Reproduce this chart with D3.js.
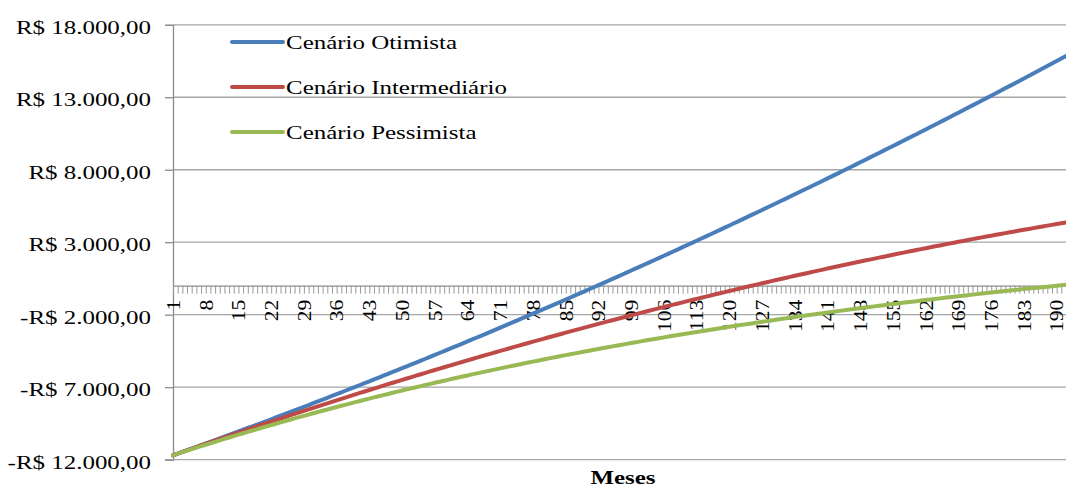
<!DOCTYPE html>
<html>
<head>
<meta charset="utf-8">
<script src="https://cdn.jsdelivr.net/npm/d3@7"></script>
<style>
  html, body { margin: 0; padding: 0; background: #ffffff; }
  svg { display: block; }
  text { font-family: "Liberation Serif", "Times New Roman", serif; fill: #000; }
</style>
</head>
<body>
<svg id="chart" width="1066" height="488"></svg>
<script>
// Cumulative balance (R$) per month for three scenarios
const months = d3.range(1, 193);

const otimista = [
  -11700,-11585,-11469,-11353,-11237,-11121,-11004,-10887,-10769,-10652,
  -10534,-10415,-10297,-10178,-10059,-9939,-9819,-9699,-9579,-9458,
  -9337,-9216,-9094,-8972,-8850,-8727,-8604,-8481,-8358,-8234,
  -8110,-7985,-7861,-7736,-7610,-7485,-7359,-7233,-7106,-6979,
  -6852,-6725,-6597,-6469,-6341,-6212,-6083,-5954,-5824,-5694,
  -5564,-5434,-5303,-5172,-5040,-4909,-4777,-4644,-4512,-4379,
  -4245,-4112,-3978,-3844,-3709,-3575,-3440,-3304,-3169,-3033,
  -2896,-2760,-2623,-2486,-2348,-2210,-2072,-1934,-1795,-1656,
  -1517,-1377,-1237,-1097,-956,-815,-674,-533,-391,-249,
  -107,36,179,322,466,610,754,899,1044,1189,
  1334,1480,1626,1772,1919,2066,2213,2361,2508,2657,
  2805,2954,3103,3252,3402,3552,3702,3853,4004,4155,
  4307,4458,4611,4763,4916,5069,5222,5376,5530,5684,
  5839,5993,6149,6304,6460,6616,6772,6929,7086,7243,
  7401,7559,7717,7876,8035,8194,8353,8513,8673,8833,
  8994,9155,9316,9478,9640,9802,9964,10127,10290,10454,
  10617,10782,10946,11110,11275,11441,11606,11772,11938,12105,
  12271,12439,12606,12774,12942,13110,13278,13447,13617,13786,
  13956,14126,14296,14467,14638,14809,14981,15153,15325,15498,
  15671,15844
];

const intermediario = [
  -11700,-11586,-11473,-11360,-11248,-11135,-11023,-10912,-10800,-10689,
  -10579,-10468,-10358,-10248,-10139,-10029,-9920,-9812,-9704,-9596,
  -9488,-9381,-9274,-9167,-9060,-8954,-8849,-8743,-8638,-8533,
  -8428,-8324,-8220,-8117,-8013,-7910,-7808,-7705,-7603,-7501,
  -7400,-7299,-7198,-7097,-6997,-6897,-6798,-6699,-6600,-6501,
  -6402,-6304,-6207,-6109,-6012,-5915,-5819,-5723,-5627,-5531,
  -5436,-5341,-5246,-5152,-5058,-4964,-4871,-4778,-4685,-4593,
  -4500,-4409,-4317,-4226,-4135,-4044,-3954,-3864,-3774,-3685,
  -3596,-3507,-3419,-3331,-3243,-3155,-3068,-2981,-2895,-2808,
  -2722,-2637,-2552,-2467,-2382,-2297,-2213,-2130,-2046,-1963,
  -1880,-1797,-1715,-1633,-1552,-1470,-1389,-1309,-1228,-1148,
  -1068,-989,-910,-831,-753,-674,-596,-519,-442,-365,
  -288,-212,-136,-60,16,91,165,240,314,388,
  462,535,608,680,753,825,896,968,1039,1110,
  1180,1250,1320,1390,1459,1528,1596,1665,1732,1800,
  1868,1935,2001,2068,2134,2200,2265,2330,2395,2460,
  2524,2588,2652,2715,2778,2841,2903,2965,3027,3088,
  3150,3210,3271,3331,3391,3451,3510,3569,3628,3686,
  3744,3802,3859,3916,3973,4030,4086,4142,4197,4253,
  4308,4362
];

const pessimista = [
  -11700,-11594,-11490,-11385,-11282,-11179,-11076,-10975,-10874,-10773,
  -10673,-10574,-10476,-10378,-10281,-10184,-10088,-9992,-9898,-9803,
  -9710,-9616,-9524,-9432,-9341,-9250,-9160,-9070,-8981,-8893,
  -8805,-8717,-8630,-8544,-8458,-8373,-8288,-8204,-8121,-8038,
  -7955,-7873,-7791,-7710,-7630,-7550,-7470,-7391,-7313,-7235,
  -7157,-7080,-7004,-6928,-6852,-6777,-6702,-6628,-6555,-6481,
  -6409,-6336,-6264,-6193,-6122,-6051,-5981,-5912,-5843,-5774,
  -5705,-5638,-5570,-5503,-5436,-5370,-5304,-5239,-5174,-5110,
  -5045,-4982,-4918,-4855,-4793,-4731,-4669,-4607,-4546,-4486,
  -4426,-4366,-4306,-4247,-4189,-4130,-4072,-4015,-3957,-3900,
  -3844,-3788,-3732,-3676,-3621,-3566,-3512,-3458,-3404,-3351,
  -3298,-3245,-3192,-3140,-3089,-3037,-2986,-2935,-2885,-2835,
  -2785,-2735,-2686,-2637,-2589,-2540,-2492,-2445,-2397,-2350,
  -2303,-2257,-2211,-2165,-2119,-2074,-2029,-1984,-1939,-1895,
  -1851,-1808,-1764,-1721,-1678,-1636,-1593,-1551,-1510,-1468,
  -1427,-1386,-1345,-1305,-1264,-1224,-1185,-1145,-1106,-1067,
  -1028,-990,-952,-914,-876,-838,-801,-764,-727,-691,
  -654,-618,-582,-547,-511,-476,-441,-406,-372,-337,
  -303,-269,-236,-202,-169,-136,-103,-70,-38,-5,
  27,58
];

const seriesNames = ["Cenário Otimista", "Cenário Intermediário", "Cenário Pessimista"];
const seriesColors = ["#4A7EBB", "#BE4B48", "#98B954"];

const yTicks = [-12000, -7000, -2000, 3000, 8000, 13000, 18000];
const yTickLabels = ["-R$ 12.000,00", "-R$ 7.000,00", "-R$ 2.000,00", "R$ 3.000,00",
                     "R$ 8.000,00", "R$ 13.000,00", "R$ 18.000,00"];
const xTickLabels = [1, 8, 15, 22, 29, 36, 43, 50, 57, 64, 71, 78, 85, 92, 99, 106,
                     113, 120, 127, 134, 141, 148, 155, 162, 169, 176, 183, 190];
const xTitle = "Meses";

// ---- layout ----
const plot = { left: 173, right: 1066, top: 24.8, bottom: 459.6 };
const stretch = 1.28;   // wide glyph rendering used throughout the chart

const svg = d3.select("#chart");

const x = d3.scalePoint().domain(months).range([plot.left, plot.right]);
const y = d3.scaleLinear().domain([-12000, 18000]).range([plot.bottom, plot.top]);

// horizontal gridlines
svg.append("g")
  .selectAll("line")
  .data(yTicks)
  .join("line")
  .attr("x1", plot.left).attr("x2", plot.right)
  .attr("y1", d => y(d)).attr("y2", d => y(d))
  .attr("stroke", "#a6a6a6").attr("stroke-width", 1.3);

// y axis
const yAxis = svg.append("g")
  .attr("transform", `translate(${plot.left},0)`)
  .call(d3.axisLeft(y).tickValues(yTicks).tickSize(8).tickPadding(0)
    .tickFormat((d, i) => yTickLabels[i]));
yAxis.select(".domain").attr("stroke", "#8c8c8c").attr("stroke-width", 1.3);
yAxis.selectAll(".tick line").attr("stroke", "#8c8c8c").attr("stroke-width", 1.3);
yAxis.selectAll(".tick text")
  .attr("x", null).attr("dy", null)
  .attr("font-size", 19.5)
  .attr("text-anchor", "end")
  .attr("transform", `translate(-22,8.5) scale(${stretch},1)`);

// x axis drawn through zero, with a tick at each month
const xAxis = svg.append("g")
  .attr("transform", `translate(0,${y(0)})`)
  .call(d3.axisBottom(x).tickValues(months).tickSize(8).tickSizeOuter(0)
    .tickFormat(d => xTickLabels.includes(d) ? String(d) : ""));
xAxis.select(".domain").attr("stroke", "#8c8c8c").attr("stroke-width", 1.3)
  .attr("d", `M${plot.left},0.5H${plot.right}`);
xAxis.selectAll(".tick line").attr("stroke", "#9a9a9a").attr("stroke-width", 1);
xAxis.selectAll(".tick text")
  .attr("y", null).attr("dy", null)
  .attr("font-size", 18)
  .attr("text-anchor", "end")
  .attr("dominant-baseline", "central")
  .attr("transform", `translate(0,14) rotate(-90) scale(1.2,1)`);

// series lines
const line = d3.line().x((d, i) => x(months[i])).y(d => y(d));
[otimista, intermediario, pessimista].forEach((vals, k) => {
  svg.append("path")
    .datum(vals)
    .attr("d", line)
    .attr("fill", "none")
    .attr("stroke", seriesColors[k])
    .attr("stroke-width", 4)
    .attr("stroke-linejoin", "round")
    .attr("stroke-linecap", "round");
});

// legend
const legend = svg.append("g").attr("transform", "translate(232,42)");
seriesNames.forEach((name, k) => {
  const g = legend.append("g").attr("transform", `translate(0,${k * 45})`);
  g.append("line")
    .attr("x1", 0).attr("x2", 51).attr("y1", 0).attr("y2", 0)
    .attr("stroke", seriesColors[k]).attr("stroke-width", 4)
    .attr("stroke-linecap", "round");
  g.append("text")
    .attr("transform", `translate(54,7) scale(${stretch},1)`)
    .attr("font-size", 19.5)
    .text(name);
});

// x axis title
svg.append("text")
  .attr("transform", `translate(623,484) scale(${stretch},1)`)
  .attr("text-anchor", "middle")
  .attr("font-size", 19.5)
  .attr("font-weight", "bold")
  .text(xTitle);
</script>
</body>
</html>
